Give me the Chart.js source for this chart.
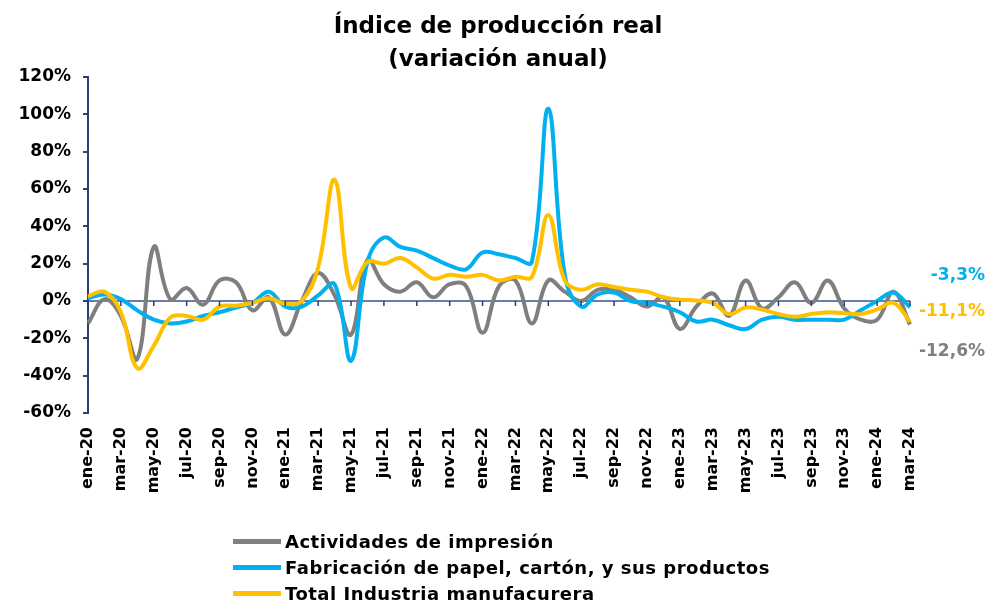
<!DOCTYPE html>
<html>
<head>
<meta charset="utf-8">
<script src="https://cdn.jsdelivr.net/npm/chart.js@4.4.1/dist/chart.umd.min.js"></script>
<style>
  body { margin: 0; background: #fff; }
  #wrap { position: relative; width: 987px; height: 605px; }
  #title { position: absolute; left: 0; top: 9px; width: 996px; text-align: center; font: bold 23px/33px "DejaVu Sans", sans-serif; color: #000; }
  #legend { position: absolute; left: 233px; top: 528px; font: bold 18px "DejaVu Sans", sans-serif; letter-spacing: 0.5px; color: #000; }
  .row { display: flex; align-items: center; height: 26px; }
  .swatch { display: inline-block; width: 48px; height: 5px; margin-right: 4px; }
</style>
</head>
<body>
<div id="wrap">
  <canvas id="chart" width="987" height="605"></canvas>
  <div id="title">Índice de producción real<br>(variación anual)</div>
  <div id="legend"></div>
</div>
<script>
const months = ["ene", "feb", "mar", "abr", "may", "jun", "jul", "ago", "sep", "oct", "nov", "dic"];
const labels = [];
for (let y = 20; y <= 24; y++) {
  months.forEach((m, i) => {
    if (y === 24 && i > 2) return;
    labels.push(m + "-" + y);
  });
}

const impresion = [
  -12, 1, -8, -31, 29, 1, 7, -2, 11, 10, -5, 2,
  -18, 0, 15, 3, -18, 22, 9, 5, 10, 2, 9, 8,
  -17, 8, 11, -12, 11, 5, 0, 6, 6, 2, -3, 2,
  -15, -3, 4, -8, 11, -4, 2, 10, -1, 11, -4, -10,
  -10, 5, -12.6,
];
const papel = [
  1.5, 3.5, 1, -5, -10, -12, -11, -8, -6, -3.5, -1, 5,
  -3, -3, 3, 9, -32, 21, 34, 29, 27, 23, 19, 17,
  26, 25, 23, 21, 103, 14, -3, 3.5, 4.5, 0, -1, -3,
  -6, -11, -10, -13, -15, -10, -8.5, -10, -10, -10, -10, -5,
  0, 4.5, -3.3,
];
const manufactura = [
  2.5, 5, -6, -36, -24, -9, -8, -10, -3, -2.5, -1, 1.5,
  -1.5, 0, 18, 65, 7, 21, 20, 23, 18, 12, 14, 13,
  14, 11, 13, 13, 46, 11, 6, 9, 7.5, 6, 5, 2,
  0.7, 0.3, -1, -7, -3.5, -4.6, -7, -8.5, -7, -6, -6.5, -7,
  -4.5, -1, -11.1,
];
const yTicks = [-60, -40, -20, 0, 20, 40, 60, 80, 100, 120];

const series = [
  { name: "Actividades de impresión", data: impresion, color: "#7f7f7f", end: "-12,6%", dy: 27 },
  { name: "Fabricación de papel, cartón, y sus productos", data: papel, color: "#00b0f0", end: "-3,3%", dy: -32 },
  { name: "Total Industria manufacurera", data: manufactura, color: "#ffc000", end: "-11,1%", dy: -10 },
];

const navy = "#2e3d73";
const zeroColor = "#6b7bab";
const font = "'DejaVu Sans', sans-serif";

const endLabels = {
  id: "endLabels",
  afterDatasetsDraw(chart) {
    const ctx = chart.ctx;
    const x = chart.scales.x;
    const y0 = chart.scales.y.getPixelForValue(0);
    ctx.save();
    // small category ticks on the zero line
    ctx.strokeStyle = navy;
    ctx.lineWidth = 1.5;
    for (let i = 2; i < labels.length; i += 2) {
      const px = x.getPixelForValue(i);
      ctx.beginPath();
      ctx.moveTo(px, y0);
      ctx.lineTo(px, y0 + 5);
      ctx.stroke();
    }
    ctx.font = "bold 17px " + font;
    ctx.textAlign = "right";
    ctx.textBaseline = "middle";
    series.forEach((s, i) => {
      const pts = chart.getDatasetMeta(i).data;
      const p = pts[pts.length - 1];
      ctx.fillStyle = s.color;
      ctx.fillText(s.end, chart.width - 2, p.y + s.dy);
    });
    ctx.restore();
  },
};

new Chart(document.getElementById("chart"), {
  type: "line",
  data: {
    labels: labels,
    datasets: series.map((s, i) => ({
      label: s.name,
      data: s.data,
      borderColor: s.color,
      backgroundColor: s.color,
      borderWidth: 4,
      pointRadius: 0,
      tension: 0.4,
      order: 3 - i,
    })),
  },
  options: {
    responsive: false,
    animation: false,
    layout: { padding: { left: 8, right: 77, bottom: 102, top: 77 } },
    plugins: {
      legend: { display: false },
      tooltip: { enabled: false },
    },
    scales: {
      x: {
        grid: { display: false },
        border: { display: false },
        afterFit(scale) { scale.height = 90; },
        ticks: {
          autoSkip: false,
          maxRotation: 90,
          minRotation: 90,
          padding: 6,
          color: "#000",
          font: { family: font, size: 16, weight: "bold" },
          callback: (v, i) => (i % 2 === 0 ? labels[i] : ""),
        },
      },
      y: {
        min: -60,
        max: 120,
        afterFit(scale) { scale.width = 80; },
        afterBuildTicks(scale) { scale.ticks = yTicks.map((v) => ({ value: v })); },
        border: { color: navy, width: 2 },
        grid: {
          color: (c) => (c.tick && c.tick.value === 0 ? zeroColor : "transparent"),
          lineWidth: 2,
          tickColor: navy,
          tickLength: 5,
        },
        ticks: {
          color: "#000",
          padding: 12,
          font: { family: font, size: 17, weight: "bold" },
          callback: (v) => v + "%",
        },
      },
    },
  },
  plugins: [endLabels],
});

const legend = document.getElementById("legend");
series.forEach((s) => {
  const row = document.createElement("div");
  row.className = "row";
  row.innerHTML = '<span class="swatch" style="background:' + s.color + '"></span>' + s.name;
  legend.appendChild(row);
});
</script>
</body>
</html>
